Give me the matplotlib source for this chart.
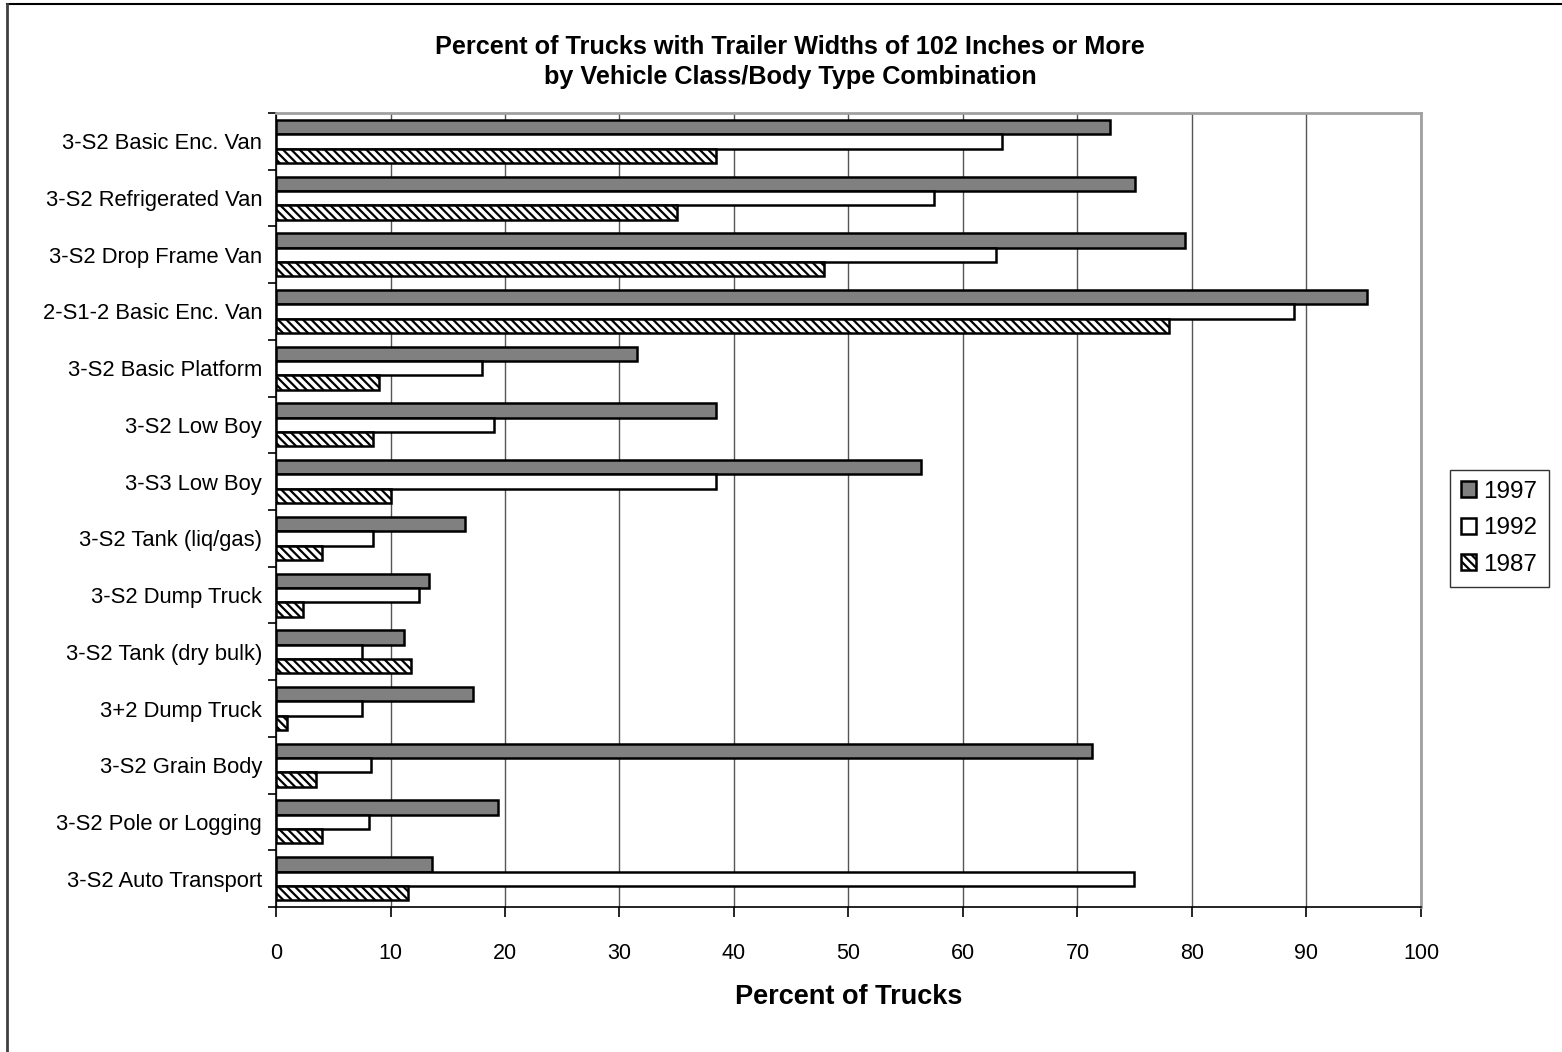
import matplotlib
matplotlib.use("Agg")
import matplotlib.pyplot as plt
from matplotlib.lines import Line2D
import numpy as np

plt.rcParams['font.family'] = ['Liberation Sans', 'DejaVu Sans']
plt.rcParams['hatch.linewidth'] = 1.6

categories = [
    "3-S2 Basic Enc. Van", "3-S2 Refrigerated Van", "3-S2 Drop Frame Van",
    "2-S1-2 Basic Enc. Van", "3-S2 Basic Platform", "3-S2 Low Boy",
    "3-S3 Low Boy", "3-S2 Tank (liq/gas)", "3-S2 Dump Truck",
    "3-S2 Tank (dry bulk)", "3+2 Dump Truck", "3-S2 Grain Body",
    "3-S2 Pole or Logging", "3-S2 Auto Transport",
]
pct_1997 = [72.8, 75.0, 79.4, 95.3, 31.5, 38.4, 56.3, 16.5, 13.4, 11.2, 17.2, 71.3, 19.4, 13.6]
pct_1992 = [63.4, 57.5, 62.9, 88.9, 18.0, 19.0, 38.4, 8.5, 12.5, 7.5, 7.5, 8.3, 8.1, 74.9]
pct_1987 = [38.4, 35.0, 47.9, 78.0, 9.0, 8.5, 10.0, 4.0, 2.4, 11.8, 1.0, 3.5, 4.0, 11.5]
years = ["1997", "1992", "1987"]
x_ticks = [0, 10, 20, 30, 40, 50, 60, 70, 80, 90, 100]

fig = plt.figure(figsize=(15.62, 10.52), dpi=100)
ax = fig.add_axes([0.1767, 0.1378, 0.9097 - 0.1767, 0.8926 - 0.1378])

y = np.arange(len(categories))
h = 0.253
edge_kw = dict(edgecolor='black', linewidth=1.8)
b1 = ax.barh(y - h, pct_1997, height=h, color='#808080', **edge_kw, zorder=3)
b2 = ax.barh(y, pct_1992, height=h, color='white', **edge_kw, zorder=3)
b3 = ax.barh(y + h, pct_1987, height=h, color='white', hatch='\\\\\\\\', **edge_kw, zorder=3)

ax.set_xlim(0, 100)
ax.set_ylim(len(categories) - 0.5, -0.5)
ax.set_xticks(x_ticks)
ax.set_xticklabels([str(v) for v in x_ticks], fontsize=15.5)
ax.set_yticks(y)
ax.set_yticklabels(categories, fontsize=15.8)
ax.tick_params(axis='y', which='major', length=0, pad=10)
ax.set_yticks(np.arange(-0.5, len(categories) + 0.5, 1), minor=True)
ax.tick_params(axis='y', which='minor', length=6, width=1.2, direction='out')
ax.tick_params(axis='x', which='major', length=7, width=1.2, direction='out', pad=19)

ax.xaxis.grid(True, color='#555555', linewidth=1.0, zorder=0)
ax.set_axisbelow(True)
for side in ['top', 'right']:
    ax.spines[side].set_color('#a0a0a0')
    ax.spines[side].set_linewidth(2.0)
for side in ['left', 'bottom']:
    ax.spines[side].set_color('black')
    ax.spines[side].set_linewidth(1.2)

ax.set_xlabel("Percent of Trucks", fontsize=19.5, fontweight='bold', labelpad=14)

fig.text(0.506, 0.955, "Percent of Trucks with Trailer Widths of 102 Inches or More",
         ha='center', va='center', fontsize=18.2, fontweight='bold')
fig.text(0.506, 0.927, "by Vehicle Class/Body Type Combination",
         ha='center', va='center', fontsize=18.2, fontweight='bold')

leg = ax.legend([b1, b2, b3], years, loc='center left',
                bbox_to_anchor=(1.025, 0.477), fontsize=17.5, frameon=True,
                fancybox=False, edgecolor='black', handlelength=0.65,
                handleheight=0.65, handletextpad=0.3, borderpad=0.45,
                labelspacing=0.6, borderaxespad=0)
leg.get_frame().set_linewidth(1.0)

# outer chart border (top and left edges)
fig.add_artist(Line2D([0.0045, 1.0], [0.9965, 0.9965], transform=fig.transFigure,
                      color='black', linewidth=1.5))
fig.add_artist(Line2D([0.0045, 0.0045], [0.0, 0.9965], transform=fig.transFigure,
                      color='#404040', linewidth=2.0))

fig.savefig("out.png", dpi=100)
